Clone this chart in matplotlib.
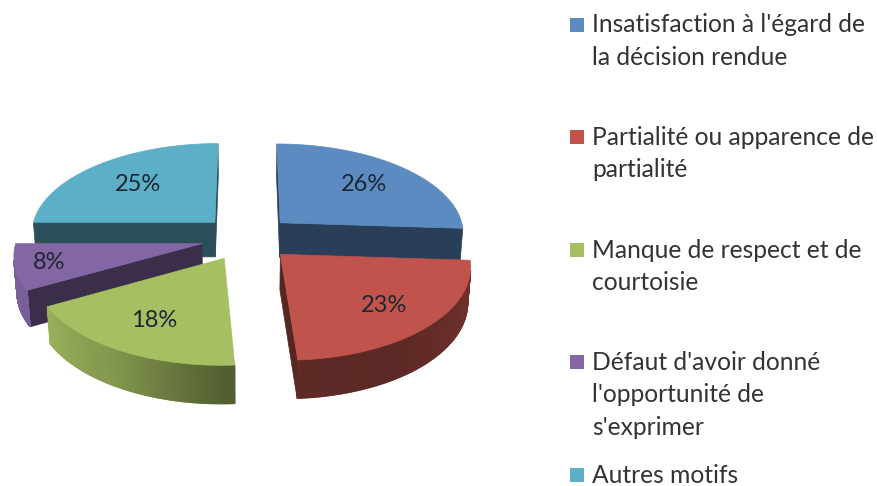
import numpy as np
import matplotlib.pyplot as plt
from matplotlib.patches import Polygon, Rectangle
from matplotlib.colors import to_rgb

labels = ["Insatisfaction à l'égard de\nla décision rendue",
          "Partialité ou apparence de\npartialité",
          "Manque de respect et de\ncourtoisie",
          "Défaut d'avoir donné\nl'opportunité de\ns'exprimer",
          "Autres motifs"]
shares = [26, 23, 18, 8, 25]
colors = ['#5b8bc1', '#c0544d', '#a6bf63', '#8367a4', '#5dafc8']

# view settings, in pixels / pie radius units
CX, CY = 247, 238
FOCAL = 1480
DIST = 8.0
ELEV = np.radians(29.3)
THICK = 0.22
EXPLODE = 0.25
LABEL_R = [0.68, 0.72, 0.7, 0.82, 0.64]
cam = DIST * np.array([0.0, -np.cos(ELEV), np.sin(ELEV)])


def project(pts):
    pts = np.asarray(pts, dtype=float)
    u, v, z = pts[:, 0], pts[:, 1], pts[:, 2]
    d = DIST + v * np.cos(ELEV) - z * np.sin(ELEV)
    x = CX + FOCAL * u / d
    y = CY - FOCAL * (v * np.sin(ELEV) + z * np.cos(ELEV)) / d
    return np.column_stack([x, y])


def shade(c, f):
    return tuple(np.clip(np.array(to_rgb(c)) * f, 0, 1))


def side_factor(phi):
    # rough copy of the excel gradient on the curved side
    return np.interp(phi, [-200, -180, -150, -120, -90, -60, -30, 0],
                     [0.95, 0.95, 0.92, 0.78, 0.5, 0.48, 0.55, 0.63])


def visible(p, n):
    return np.dot(n, cam - p) > 0


fig = plt.figure(figsize=(8.77, 4.86), dpi=100)
ax = fig.add_axes([0, 0, 1, 1])
ax.set_xlim(0, 877)
ax.set_ylim(486, 0)
ax.axis('off')

fracs = np.array(shares) / sum(shares)
ends = 90 - 360 * np.cumsum(fracs)
starts = np.concatenate([[90], ends[:-1]])

slices = []
for i in range(len(shares)):
    a0, a1 = starts[i], ends[i]
    mid = np.radians((a0 + a1) / 2)
    off = EXPLODE * np.array([np.cos(mid), np.sin(mid), 0])
    slices.append((i, a0, a1, mid, off))

# back slices first
slices.sort(key=lambda s: -s[4][1])

for i, a0, a1, mid, off in slices:
    col = colors[i]
    phi = np.radians(np.linspace(a0, a1, 200))
    top = np.column_stack([np.cos(phi), np.sin(phi), np.zeros_like(phi)]) + off
    bot = top - np.array([0, 0, THICK])
    c_top = off.copy()
    c_bot = off - np.array([0, 0, THICK])

    # radial faces
    for ang, sgn, pt, pb in [(a0, 1, top[0], bot[0]), (a1, -1, top[-1], bot[-1])]:
        na = np.radians(ang + sgn * 90)
        n = np.array([np.cos(na), np.sin(na), 0])
        quad = np.array([c_top, pt, pb, c_bot])
        if visible(quad.mean(axis=0), n):
            ax.add_patch(Polygon(project(quad), closed=True, fc=shade(col, 0.45),
                                 ec=shade(col, 0.45), lw=0.5))

    # curved outer side
    for k in range(len(phi) - 1):
        pm = (phi[k] + phi[k + 1]) / 2
        n = np.array([np.cos(pm), np.sin(pm), 0])
        quad = np.array([top[k], top[k + 1], bot[k + 1], bot[k]])
        if visible(quad.mean(axis=0), n):
            f = side_factor(np.degrees(pm))
            ax.add_patch(Polygon(project(quad), closed=True, fc=shade(col, f),
                                 ec=shade(col, f), lw=1.0))

    # top face
    face = np.vstack([c_top, top])
    ax.add_patch(Polygon(project(face), closed=True, fc=col, ec=col, lw=0.5))

    # percentage label
    lp = off + LABEL_R[i] * np.array([np.cos(mid), np.sin(mid), 0])
    lx, ly = project([lp])[0]
    ax.text(lx, ly, f'{shares[i]}%', ha='center', va='center', fontsize=17,
            family='Lato', color='#1e2630')

# legend
entry_y = [25, 137, 250, 362, 475]
line_h = 32.5
for i, lab in enumerate(labels):
    y0 = entry_y[i]
    ax.add_patch(Rectangle((570, y0 - 7), 14, 14, fc=colors[i], ec='none'))
    for j, line in enumerate(lab.split('\n')):
        ax.text(592, y0 + j * line_h, line, ha='left', va='center', fontsize=17.7,
                family='Lato', color='#333333')

fig.savefig('out.png', dpi=100, facecolor='white')
